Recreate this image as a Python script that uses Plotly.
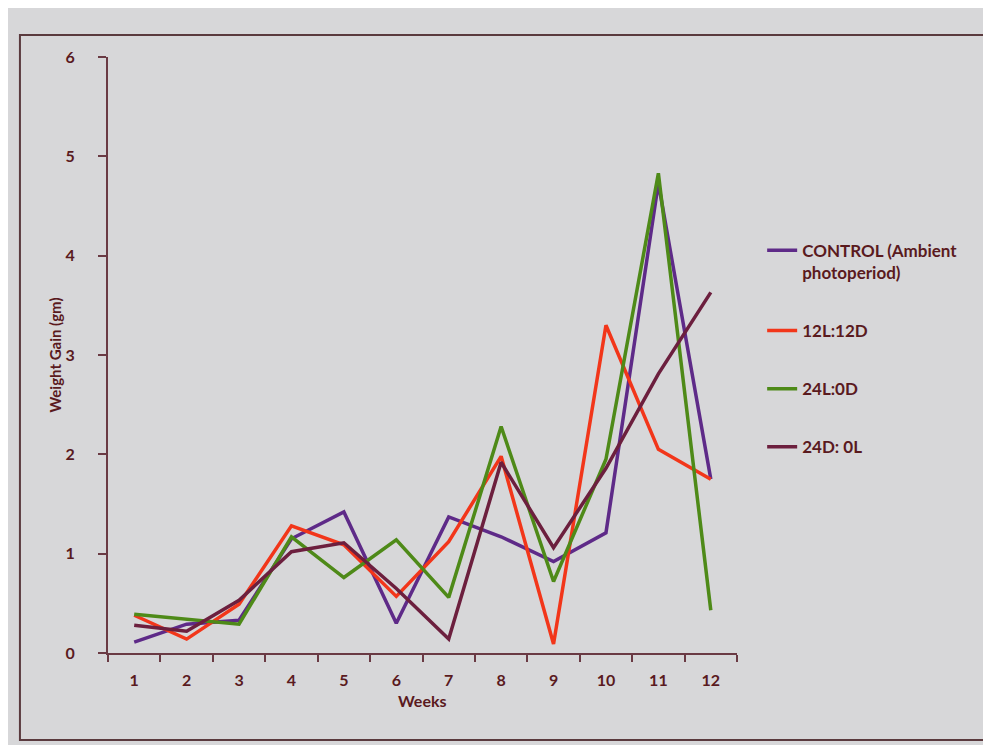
import plotly.graph_objects as go

weeks = ["1", "2", "3", "4", "5", "6", "7", "8", "9", "10", "11", "12"]
control = [0.11, 0.29, 0.33, 1.15, 1.42, 0.30, 1.37, 1.17, 0.92, 1.21, 4.73, 1.75]
l12d12 = [0.38, 0.14, 0.49, 1.28, 1.09, 0.57, 1.12, 1.98, 0.09, 3.30, 2.05, 1.75]
l24d0 = [0.39, 0.34, 0.29, 1.17, 0.76, 1.14, 0.56, 2.28, 0.72, 1.95, 4.83, 0.43]
d24l0 = [0.28, 0.22, 0.53, 1.02, 1.11, 0.65, 0.14, 1.92, 1.06, 1.86, 2.81, 3.63]

names = ["CONTROL (Ambient<br>photoperiod)", "12L:12D", "24L:0D", "24D: 0L"]
series = [control, l12d12, l24d0, d24l0]
colors = ["#5e2a88", "#f2361a", "#4e8a18", "#6c1f3e"]

txt = "#5a1a1e"
axc = "#6a3a44"
bg = "#d7d7d9"

fig = go.Figure()
for i, (n, s, c) in enumerate(zip(names, series, colors)):
    fig.add_trace(go.Scatter(x=weeks, y=s, name=n, mode="lines",
                             line=dict(color=c, width=3.5),
                             legendgroup=f"g{i}"))

fig.update_layout(
    width=983, height=737,
    paper_bgcolor=bg, plot_bgcolor=bg,
    margin=dict(l=100, r=254, t=49, b=92),
    font=dict(family="Lato", size=14, color=txt),
    showlegend=True,
    legend=dict(x=1.04, y=0.705, xanchor="left", yanchor="top",
                bgcolor="rgba(0,0,0,0)", tracegroupgap=33,
                font=dict(family="Lato", size=17, color=txt, weight="bold"),
                valign="top"),
    xaxis=dict(type="category", range=[-0.5, 11.5], tickson="boundaries",
               showline=True, linecolor=axc, linewidth=2, ticks="outside",
               tickcolor=axc, ticklen=7, tickwidth=2, showgrid=False,
               zeroline=False, ticklabelstandoff=12,
               tickfont=dict(family="Lato", size=16, color=txt, weight="bold")),
    yaxis=dict(range=[0, 6], dtick=1, showline=True, linecolor=axc, linewidth=2,
               ticks="outside", tickcolor=axc, ticklen=8, tickwidth=2,
               showgrid=False, zeroline=False, ticklabelstandoff=20,
               tickfont=dict(family="Lato", size=16, color=txt, weight="bold"),
               title=dict(text="<b>Weight Gain (gm)</b>", standoff=0,
                          font=dict(family="Lato", size=15, color=txt))),
)

fig.add_annotation(text="<b>Weeks</b>", xref="paper", yref="paper",
                   x=0.5, y=-0.08, xanchor="center", yanchor="middle",
                   showarrow=False, font=dict(family="Lato", size=16, color=txt))

fig.add_shape(type="rect", xref="paper", yref="paper",
              x0=-0.14, x1=1.394, y0=-0.146, y1=1.037,
              line=dict(color="#5a3a3e", width=2), fillcolor="rgba(0,0,0,0)")

fig.write_html("out.html")
